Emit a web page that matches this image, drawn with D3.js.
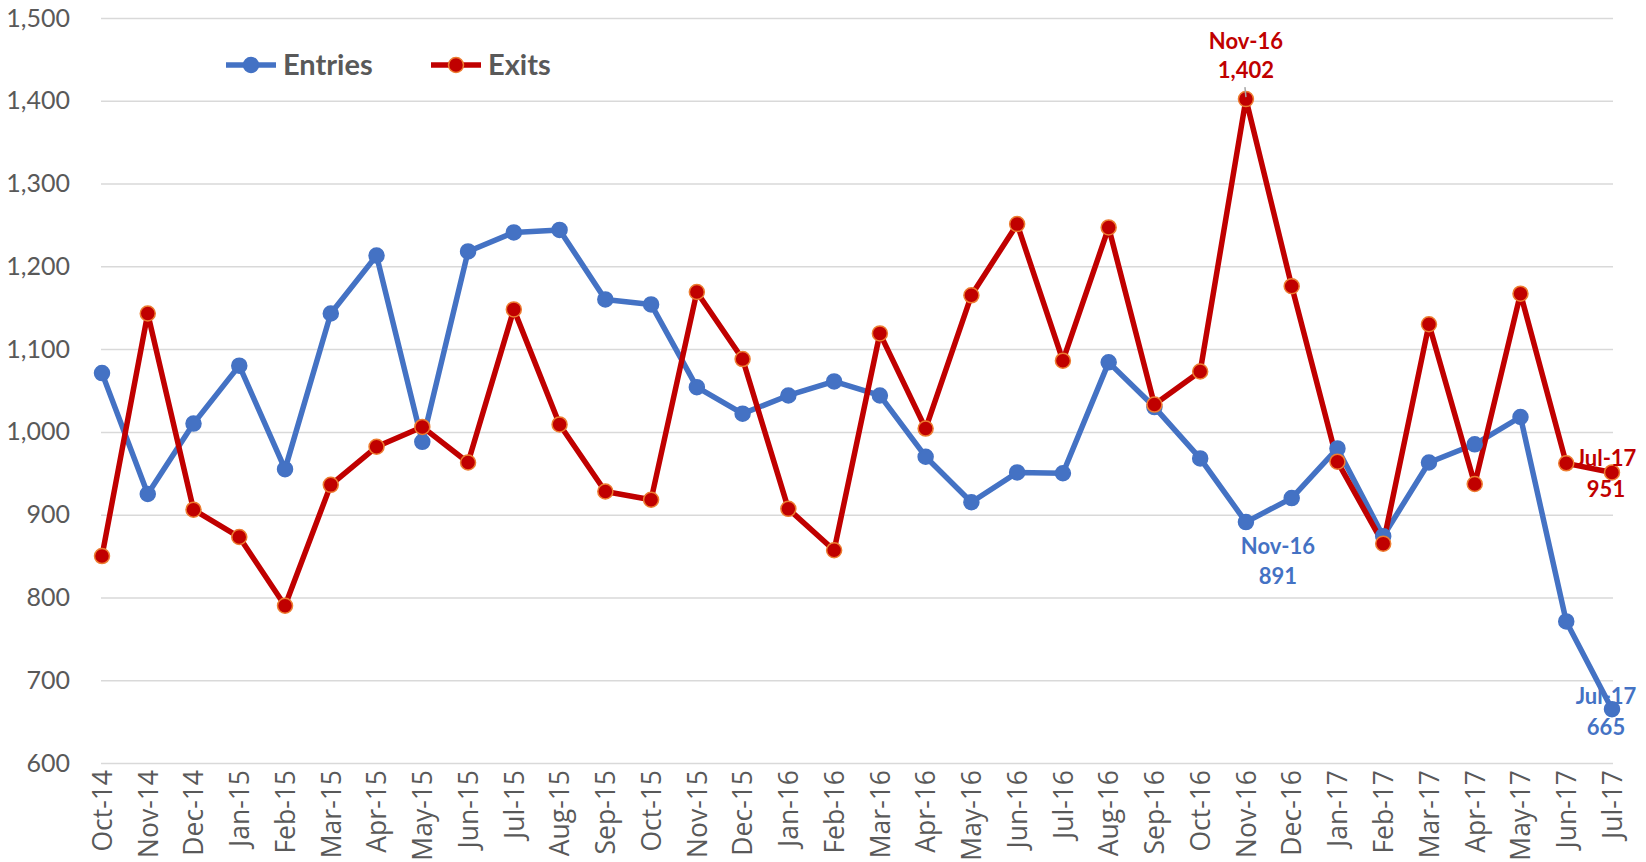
<!DOCTYPE html>
<html lang="en">
<head>
  <meta charset="UTF-8">
  <title>Entries and Exits</title>
  <script src="https://d3js.org/d3.v7.min.js"></script>
  <style>
    body { margin: 0; padding: 0; background: #fff; overflow: hidden; }
    #chart { display: block; }
    .y-axis text { font-family: Lato, sans-serif; font-size: 25px; fill: #595959; }
    .x-axis text { font-family: "Open Sans", sans-serif; font-size: 26.5px; fill: #595959; }
    .grid line { stroke: #d9d9d9; stroke-width: 1.5px; }
    .legend text { font-family: Lato, sans-serif; font-weight: bold; font-size: 29px; fill: #595959; }
    .dlabel { font-family: Lato, sans-serif; font-weight: bold; font-size: 22px; text-anchor: middle; }
  </style>
</head>
<body>
  <svg id="chart" width="1646" height="862"></svg>

  <script>
    // —— data ——
    const months = ["Oct-14","Nov-14","Dec-14","Jan-15","Feb-15","Mar-15","Apr-15","May-15",
      "Jun-15","Jul-15","Aug-15","Sep-15","Oct-15","Nov-15","Dec-15","Jan-16","Feb-16","Mar-16",
      "Apr-16","May-16","Jun-16","Jul-16","Aug-16","Sep-16","Oct-16","Nov-16","Dec-16","Jan-17",
      "Feb-17","Mar-17","Apr-17","May-17","Jun-17","Jul-17"];

    const entries = [1071, 925, 1010, 1080, 955, 1143, 1213, 988, 1218, 1241, 1244, 1160, 1154,
      1054, 1022, 1044, 1061, 1044, 970, 915, 951, 950, 1084, 1030, 968, 891, 920, 980, 874,
      963, 985, 1018, 771, 665];

    const exits = [850, 1143, 906, 873, 790, 936, 982, 1006, 963, 1148, 1009, 928, 918, 1169,
      1088, 907, 857, 1119, 1004, 1165, 1251, 1086, 1247, 1033, 1073, 1402, 1176, 964, 865,
      1130, 937, 1167, 962, 951];

    const yTicks = [600, 700, 800, 900, 1000, 1100, 1200, 1300, 1400, 1500];

    // —— layout ——
    const svg = d3.select("#chart");
    const plotL = 102, plotR = 1612, plotT = 18, plotB = 763;

    const x = d3.scalePoint().domain(months).range([plotL, plotR]);
    const y = d3.scaleLinear().domain([600, 1500]).range([plotB, plotT]);
    const fmt = d3.format(",");

    // gridlines + y labels
    svg.append("g")
      .attr("class", "y-axis grid")
      .attr("transform", `translate(${plotL - 1},0)`)
      .call(d3.axisLeft(y).tickValues(yTicks).tickFormat(fmt)
        .tickSize(-(plotR - plotL + 2)).tickPadding(31))
      .call(g => g.select(".domain").remove());

    // x labels, rotated
    svg.append("g")
      .attr("class", "x-axis")
      .attr("transform", `translate(0,${plotB})`)
      .call(d3.axisBottom(x).tickSize(0))
      .call(g => g.select(".domain").remove())
      .selectAll("text")
        .attr("transform", "translate(0,7) rotate(-90)")
        .attr("x", 0).attr("y", 0).attr("dy", "0.35em")
        .style("text-anchor", "end");

    const line = d3.line().x((d, i) => x(months[i])).y(d => y(d));

    const series = [
      { name: "Entries", values: entries, color: "#4472c4", fill: "#4472c4", stroke: "#4472c4" },
      { name: "Exits", values: exits, color: "#c00000", fill: "#c00000", stroke: "#ed7d31" }
    ];

    series.forEach(s => {
      svg.append("path")
        .datum(s.values)
        .attr("fill", "none")
        .attr("stroke", s.color)
        .attr("stroke-width", 5.5)
        .attr("stroke-linejoin", "round")
        .attr("d", line);
    });

    series.forEach(s => {
      svg.append("g").selectAll("circle")
        .data(s.values).join("circle")
        .attr("cx", (d, i) => x(months[i]))
        .attr("cy", d => y(d))
        .attr("r", 7.5)
        .attr("fill", s.fill)
        .attr("stroke", s.stroke)
        .attr("stroke-width", 1.5);
    });

    // —— data labels ——
    const labels = [
      { s: 1, i: 25, dx: 0, lines: [-50, -21], color: "#c00000", leader: true },
      { s: 0, i: 25, dx: 32, lines: [32, 62], color: "#4472c4" },
      { s: 1, i: 33, dx: -6, lines: [-6, 25], color: "#c00000" },
      { s: 0, i: 33, dx: -6, lines: [-5, 26], color: "#4472c4" }
    ];
    labels.forEach(l => {
      const v = series[l.s].values[l.i];
      const px = x(months[l.i]), py = y(v);
      if (l.leader) {
        svg.append("line")
          .attr("x1", px - 1).attr("y1", py - 12)
          .attr("x2", px).attr("y2", py - 2)
          .attr("stroke", "#a6a6a6").attr("stroke-width", 1.5);
      }
      const t = svg.append("text").attr("class", "dlabel").attr("fill", l.color);
      t.append("tspan").attr("x", px + l.dx).attr("y", py + l.lines[0]).text(months[l.i]);
      t.append("tspan").attr("x", px + l.dx).attr("y", py + l.lines[1]).text(fmt(v));
    });

    // —— legend ——
    const legend = svg.append("g").attr("class", "legend");
    const legendPos = [{ x0: 226, tx: 283 }, { x0: 431, tx: 488 }];
    series.forEach((s, k) => {
      const p = legendPos[k], ly = 65;
      legend.append("line")
        .attr("x1", p.x0).attr("x2", p.x0 + 50)
        .attr("y1", ly).attr("y2", ly)
        .attr("stroke", s.color).attr("stroke-width", 5.5);
      legend.append("circle")
        .attr("cx", p.x0 + 25).attr("cy", ly).attr("r", 7.5)
        .attr("fill", s.fill).attr("stroke", s.stroke).attr("stroke-width", 1.5);
      legend.append("text")
        .attr("x", p.tx).attr("y", ly).attr("dy", "0.35em")
        .text(s.name);
    });
  </script>
</body>
</html>
